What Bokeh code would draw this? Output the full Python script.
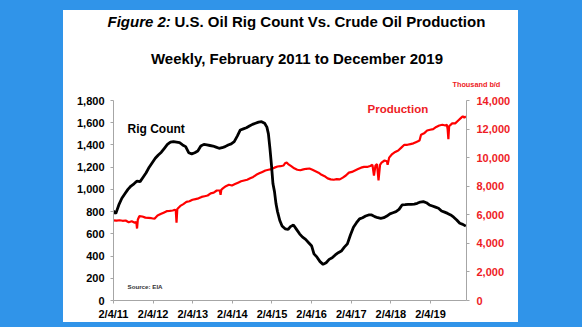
import pandas as pd
from bokeh.plotting import figure
from bokeh.models import Range1d, LinearAxis, FixedTicker, NumeralTickFormatter, Label
from bokeh.core.properties import value
from bokeh.layouts import column
from bokeh.embed import file_html
from bokeh.resources import INLINE

# ---------------- data ----------------
x_tick_dates = ["2011-02-04", "2012-02-04", "2013-02-04", "2014-02-04", "2015-02-04",
                "2016-02-04", "2017-02-04", "2018-02-04", "2019-02-04"]
x_tick_labels = ["2/4/11", "2/4/12", "2/4/13", "2/4/14", "2/4/15",
                 "2/4/16", "2/4/17", "2/4/18", "2/4/19"]
rig_ticks = [0, 200, 400, 600, 800, 1000, 1200, 1400, 1600, 1800]
prod_ticks = [0, 2000, 4000, 6000, 8000, 10000, 12000, 14000]

rig_dates = [
    "2011-02-04", "2011-02-25", "2011-03-25", "2011-04-22", "2011-05-20", "2011-06-17",
    "2011-07-15", "2011-08-12", "2011-09-09", "2011-10-07", "2011-11-04", "2011-12-02",
    "2011-12-30", "2012-01-27", "2012-02-24", "2012-03-23", "2012-04-20", "2012-05-18",
    "2012-06-15", "2012-07-13", "2012-08-10", "2012-09-07", "2012-10-05", "2012-11-02",
    "2012-11-30", "2012-12-28", "2013-01-25", "2013-02-22", "2013-03-22", "2013-04-19",
    "2013-05-17", "2013-06-14", "2013-07-12", "2013-08-09", "2013-09-06", "2013-10-04",
    "2013-11-01", "2013-11-29", "2013-12-27", "2014-01-24", "2014-02-21", "2014-03-21",
    "2014-04-18", "2014-05-16", "2014-06-13", "2014-07-11", "2014-08-08", "2014-09-05",
    "2014-10-03", "2014-10-31", "2014-11-28", "2014-12-19", "2015-01-02", "2015-01-16",
    "2015-01-30", "2015-02-13", "2015-02-27", "2015-03-13", "2015-03-27", "2015-04-17",
    "2015-05-08", "2015-06-05", "2015-07-03", "2015-07-24", "2015-08-21", "2015-09-18",
    "2015-10-16", "2015-11-13", "2015-12-11", "2016-01-08", "2016-02-05", "2016-02-26",
    "2016-03-25", "2016-04-22", "2016-05-20", "2016-06-17", "2016-07-15", "2016-08-12",
    "2016-09-09", "2016-10-07", "2016-11-04", "2016-12-02", "2016-12-30", "2017-01-27",
    "2017-02-24", "2017-03-24", "2017-04-21", "2017-05-19", "2017-06-16", "2017-07-14",
    "2017-08-11", "2017-09-08", "2017-10-06", "2017-11-03", "2017-12-01", "2017-12-29",
    "2018-01-26", "2018-02-23", "2018-03-23", "2018-04-20", "2018-05-18", "2018-06-15",
    "2018-07-13", "2018-08-10", "2018-09-07", "2018-10-05", "2018-11-02", "2018-11-30",
    "2018-12-28", "2019-01-25", "2019-02-22", "2019-03-22", "2019-04-19", "2019-05-17",
    "2019-06-14", "2019-07-12", "2019-08-09", "2019-09-06", "2019-10-04", "2019-11-01",
    "2019-11-29", "2019-12-27",
]
rig_counts = [
    805, 782, 860, 920, 960, 1000,
    1030, 1050, 1075, 1070, 1110, 1150,
    1200, 1240, 1280, 1310, 1335, 1370,
    1405, 1425, 1430, 1425, 1420, 1400,
    1385, 1330, 1320, 1330, 1345, 1390,
    1405, 1400, 1395, 1390, 1380, 1370,
    1375, 1385, 1400, 1410, 1430, 1480,
    1535, 1545, 1555, 1570, 1585, 1595,
    1605, 1609, 1595, 1560, 1500, 1370,
    1220, 1050, 980, 870, 800, 720,
    670, 645, 640, 665, 680, 640,
    600, 570, 550, 520, 490, 420,
    390, 350, 325, 340, 370, 385,
    410, 430, 445, 480, 510, 590,
    660, 700, 735, 745, 760, 770,
    770, 755, 745, 740, 745, 760,
    780, 790, 800, 820, 860, 862,
    865, 866, 868, 875, 886, 890,
    880, 860, 850, 840, 830, 805,
    795, 784, 770, 750, 725, 695,
    685, 669,
]

prod_dates = [
    "2011-02-04", "2011-03-04", "2011-04-01", "2011-04-29", "2011-05-27", "2011-06-24",
    "2011-07-22", "2011-08-19", "2011-09-02", "2011-09-09", "2011-09-16", "2011-09-30",
    "2011-10-28", "2011-11-25", "2011-12-23", "2012-01-20", "2012-02-17", "2012-03-16",
    "2012-04-13", "2012-05-11", "2012-06-08", "2012-07-06", "2012-08-03", "2012-08-24",
    "2012-08-31", "2012-09-07", "2012-09-14", "2012-10-12", "2012-11-09", "2012-12-07",
    "2013-01-04", "2013-02-01", "2013-03-01", "2013-03-29", "2013-04-26", "2013-05-24",
    "2013-06-21", "2013-07-19", "2013-08-16", "2013-09-13", "2013-10-11", "2013-10-18",
    "2013-10-25", "2013-11-08", "2013-12-06", "2014-01-03", "2014-01-31", "2014-02-28",
    "2014-03-28", "2014-04-25", "2014-05-23", "2014-06-20", "2014-07-18", "2014-08-15",
    "2014-09-12", "2014-10-10", "2014-11-07", "2014-12-05", "2015-01-02", "2015-01-30",
    "2015-02-27", "2015-03-27", "2015-04-24", "2015-05-22", "2015-06-05", "2015-06-19",
    "2015-07-03", "2015-07-31", "2015-08-28", "2015-09-25", "2015-10-23", "2015-11-20",
    "2015-12-18", "2016-01-15", "2016-02-12", "2016-03-11", "2016-04-08", "2016-05-06",
    "2016-06-03", "2016-07-01", "2016-07-29", "2016-08-26", "2016-09-23", "2016-10-21",
    "2016-11-18", "2016-12-16", "2017-01-13", "2017-02-10", "2017-03-10", "2017-04-07",
    "2017-05-05", "2017-06-02", "2017-06-30", "2017-07-28", "2017-08-18", "2017-09-01",
    "2017-09-15", "2017-09-29", "2017-10-13", "2017-10-27", "2017-11-10", "2017-12-08",
    "2017-12-29", "2018-01-05", "2018-01-19", "2018-02-16", "2018-03-16", "2018-04-13",
    "2018-05-11", "2018-06-08", "2018-07-06", "2018-08-03", "2018-08-31", "2018-09-28",
    "2018-10-26", "2018-11-09", "2018-12-07", "2019-01-04", "2019-02-01", "2019-03-01",
    "2019-03-29", "2019-04-26", "2019-05-24", "2019-06-21", "2019-07-05", "2019-07-12",
    "2019-07-19", "2019-07-26", "2019-08-23", "2019-09-20", "2019-10-18", "2019-11-15",
    "2019-11-29", "2019-12-13", "2019-12-27",
]
prod_values = [
    5610, 5590, 5620, 5580, 5600, 5480,
    5550, 5450, 5500, 5040, 5650, 5900,
    5880, 5800, 5780, 5760, 5720, 5950,
    6050, 6150, 6250, 6270, 6300, 6350,
    6300, 5450, 6400, 6620, 6750, 6900,
    6950, 7050, 7100, 7150, 7250, 7300,
    7350, 7500, 7550, 7700, 7700, 7400,
    7750, 7850, 8000, 8100, 8050, 8150,
    8250, 8350, 8400, 8450, 8550, 8650,
    8800, 8900, 9000, 9100, 9150, 9200,
    9300, 9380, 9400, 9450, 9610, 9660,
    9550, 9400, 9250, 9150, 9120, 9180,
    9220, 9240, 9150, 9050, 8950, 8800,
    8700, 8550, 8480, 8450, 8500, 8480,
    8600, 8750, 8950, 9000, 9100, 9200,
    9300, 9350, 9350, 9420, 9500, 8750,
    9450, 9550, 8400, 9500, 9650, 9800,
    9750, 9500, 10000, 10250, 10400, 10500,
    10700, 10900, 10900, 10950, 11000, 11100,
    11200, 11600, 11700, 11900, 11950, 12000,
    12150, 12250, 12300, 12250, 12300, 12000,
    11300, 12200, 12400, 12400, 12600, 12800,
    12900, 12800, 12900,
]

# ---------------- helpers ----------------
START = pd.Timestamp("2011-02-04")


def to_days(dates):
    return [int((pd.Timestamp(d) - START).days) for d in dates]


FONT = "Liberation Sans"
RED_TXT = "#ee1c25"
AXIS_GRAY = "#a6a6a6"

# ---------------- header (title area) ----------------
t = figure(width=455, height=82, output_backend="svg", toolbar_location=None,
           x_range=Range1d(0, 455), y_range=Range1d(0, 82),
           min_border=0, x_axis_type=None, y_axis_type=None)
t.frame_align = False
t.outline_line_color = None
t.background_fill_color = "white"
t.border_fill_color = "white"
t.xgrid.visible = False
t.ygrid.visible = False


def ttext(x, y, s, size, style="bold", color="black", align="left"):
    t.text(x=[x], y=[y], text=[s], text_font=value(FONT), text_font_size=value(size),
           text_font_style=value(style), text_color=color, text_align=value(align),
           text_baseline=value("middle"))


ttext(44, 71, "Figure 2:", "15px", style="bold italic")
ttext(111, 71, "U.S. Oil Rig Count Vs. Crude Oil Production", "15px")
ttext(233.5, 34, "Weekly, February 2011 to December 2019", "15px", align="center")
ttext(389, 8, "Thousand b/d", "7.3px", color=RED_TXT)

# ---------------- main chart ----------------
p = figure(width=455, height=230, output_backend="svg", toolbar_location=None,
           x_range=Range1d(0, 3254), y_range=Range1d(0, 1800),
           min_border_left=50, min_border_right=52, min_border_top=8, min_border_bottom=21)
p.frame_align = False
p.background_fill_color = "white"
p.border_fill_color = "white"
p.outline_line_color = None
p.xgrid.visible = False
p.ygrid.visible = False

p.extra_y_ranges = {"prod": Range1d(0, 14000)}

tick_days = to_days(x_tick_dates)
xa = p.xaxis[0]
xa.ticker = FixedTicker(ticks=tick_days)
xa.major_label_overrides = {d: lab for d, lab in zip(tick_days, x_tick_labels)}
ya = p.yaxis[0]
ya.ticker = FixedTicker(ticks=rig_ticks)
ya.formatter = NumeralTickFormatter(format="0,0")
ra = LinearAxis(y_range_name="prod", ticker=FixedTicker(ticks=prod_ticks),
                formatter=NumeralTickFormatter(format="0,0"))
p.add_layout(ra, "right")

for ax, col, stand in ((xa, "black", 4), (ya, "black", 6), (ra, RED_TXT, 7)):
    ax.axis_line_color = AXIS_GRAY
    ax.axis_line_width = 1
    ax.major_tick_line_color = AXIS_GRAY
    ax.major_tick_out = 3
    ax.major_tick_in = 0
    ax.minor_tick_line_color = None
    ax.major_label_text_font = FONT
    ax.major_label_text_font_style = "bold"
    ax.major_label_text_font_size = "11px"
    ax.major_label_text_color = col
    ax.major_label_standoff = stand

p.line(to_days(prod_dates), prod_values, y_range_name="prod",
       line_color="#ff0000", line_width=2.2)
p.line(to_days(rig_dates), rig_counts, line_color="black", line_width=2.8)


def lab(text, x, y, size, color="black", style="bold"):
    p.add_layout(Label(x=x, y=y, x_units="screen", y_units="screen", text=text,
                       text_font=FONT, text_font_size=size, text_font_style=style,
                       text_color=color, text_align="left", text_baseline="middle"))


lab("Rig Count", 14, 172, "12px")
lab("Production", 254, 192, "11.5px", color=RED_TXT)
lab("Source: EIA", 14, 14, "6.2px", color="#333333")

inner = column(t, p, styles={"background-color": "white"})
inner.margin = (10, 64, 5, 63)
page = column(inner, styles={"background-color": "#3094e9"})
open("out.html", "w").write(file_html(page, INLINE))
